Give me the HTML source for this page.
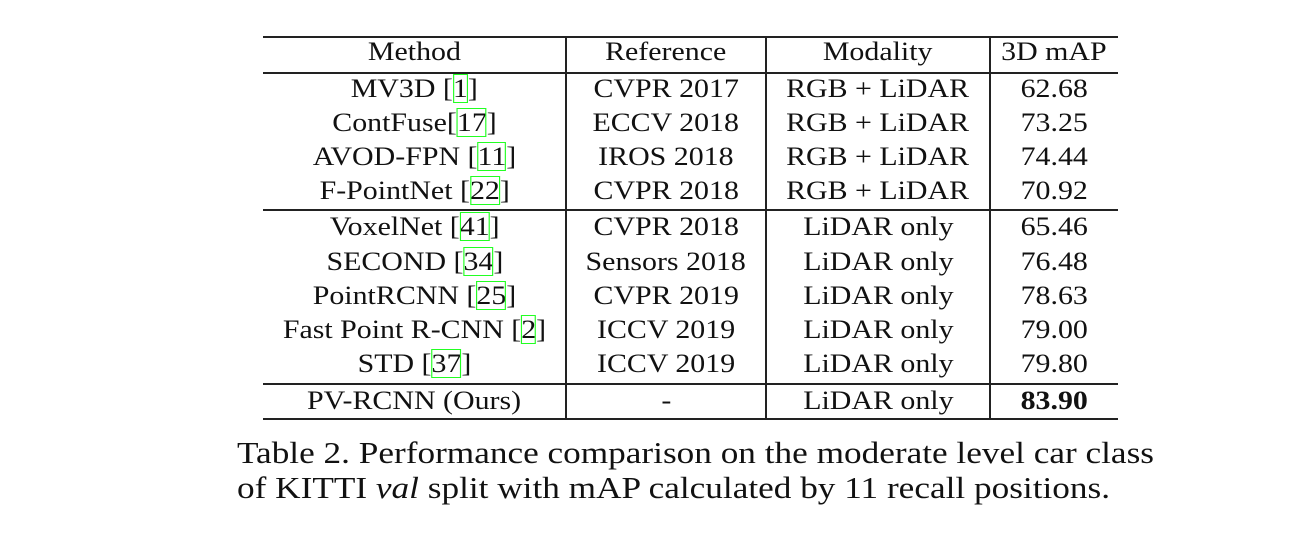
<!DOCTYPE html>
<html><head><meta charset="utf-8"><style>
body{margin:0;width:1315px;height:542px;background:#fff;overflow:hidden;font-family:"Liberation Serif",serif;color:#111;position:relative}
.h{position:absolute;left:263px;width:855px;height:2px;background:#222}
.v{position:absolute;width:1.5px;background:#222;top:37px;height:383px}
.c{position:absolute;font-size:26px;text-align:center;line-height:34px;white-space:nowrap}
.c span.in{display:inline-block;transform:scaleX(1.15);transform-origin:center}
.ref{outline:1.5px solid #2f2;outline-offset:-1px}
.cap{position:absolute;left:237px;font-size:30.5px;white-space:nowrap;transform:scaleX(1.155);transform-origin:left}
</style></head><body>
<div class="h" style="top:36px"></div>
<div class="h" style="top:72px;height:1.5px"></div>
<div class="h" style="top:209px;height:1.5px"></div>
<div class="h" style="top:383px;height:1.5px"></div>
<div class="h" style="top:418px"></div>
<div class="v" style="left:565px"></div>
<div class="v" style="left:765px"></div>
<div class="v" style="left:989px"></div>
<div id="t"></div>
<div class="cap" style="top:436px">Table 2. Performance comparison on the moderate level car class</div>
<div class="cap" style="top:471px">of KITTI <i>val</i> split with mAP calculated by 11 recall positions.</div>
<script>
const methods=["Method","MV3D [<span class='ref'>1</span>]","ContFuse[<span class='ref'>17</span>]","AVOD-FPN [<span class='ref'>11</span>]","F-PointNet [<span class='ref'>22</span>]","VoxelNet [<span class='ref'>41</span>]","SECOND [<span class='ref'>34</span>]","PointRCNN [<span class='ref'>25</span>]","Fast Point R-CNN [<span class='ref'>2</span>]","STD [<span class='ref'>37</span>]","PV-RCNN (Ours)"];
const refs=["Reference","CVPR 2017","ECCV 2018","IROS 2018","CVPR 2018","CVPR 2018","Sensors 2018","CVPR 2019","ICCV 2019","ICCV 2019","-"];
const mods=["Modality","RGB + LiDAR","RGB + LiDAR","RGB + LiDAR","RGB + LiDAR","LiDAR only","LiDAR only","LiDAR only","LiDAR only","LiDAR only","LiDAR only"];
const maps=["3D mAP","62.68","73.25","74.44","70.92","65.46","76.48","78.63","79.00","79.80","<b>83.90</b>"];
const ys=[53,90,124,158,192,228,263,297,331,365,402];
const cols=[[263,303,methods],[566,200,refs],[766,224,mods],[990,128,maps]];
const t=document.getElementById('t');
cols.forEach((c,ci)=>{c[2].forEach((txt,i)=>{
const d=document.createElement('div');d.className='c';


d.style.left=c[0]+'px';d.style.width=c[1]+'px';d.style.top=(ys[i]-18)+'px';
d.innerHTML='<span class="in">'+txt+'</span>';t.appendChild(d);});});
</script>
</body></html>
